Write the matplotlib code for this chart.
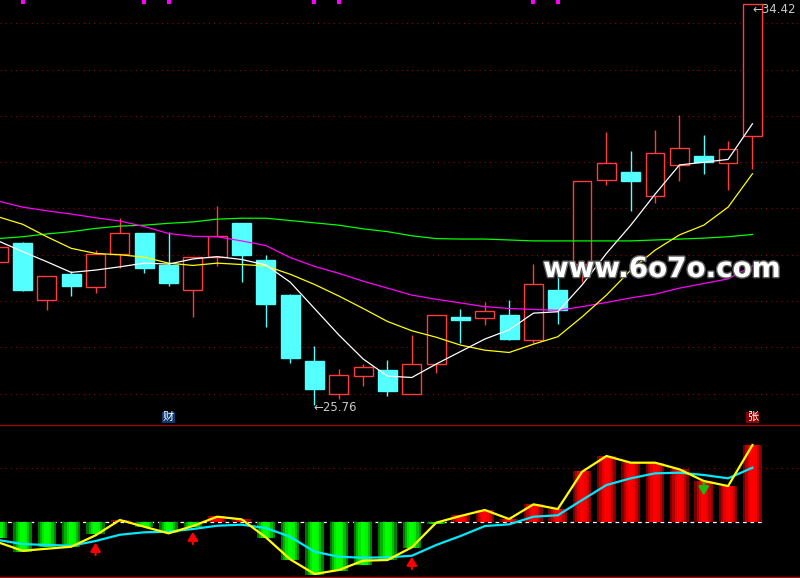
import matplotlib
matplotlib.use("Agg")
import matplotlib.pyplot as plt
import matplotlib.patheffects as pe
from matplotlib.transforms import blended_transform_factory
import numpy as np

# daily candles (index 0 is the one cut at the left edge)
opens = [28.84, 29.25, 28.02, 28.59, 28.31, 29.02, 29.47, 28.79, 28.25, 28.95,
         29.69, 28.89, 28.13, 26.71, 26.00, 26.39, 26.51, 25.99, 26.64, 27.66,
         27.63, 27.70, 27.17, 28.24, 28.80, 30.62, 30.79, 30.26, 30.95, 31.13,
         30.99, 31.57]
closes = [29.17, 28.24, 28.54, 28.33, 29.02, 29.46, 28.72, 28.40, 28.95, 29.40,
          29.00, 27.94, 26.78, 26.11, 26.40, 26.58, 26.06, 26.64, 27.69, 27.60,
          27.78, 27.19, 28.36, 27.81, 30.59, 30.98, 30.59, 31.19, 31.31, 31.00,
          31.29, 34.42]
highs = [29.17, 29.28, 28.54, 28.65, 29.10, 29.79, 29.47, 29.49, 28.95, 30.05,
         29.69, 28.99, 28.15, 27.03, 26.53, 26.64, 26.73, 27.27, 27.69, 27.83,
         27.98, 28.02, 28.80, 28.51, 30.59, 31.65, 31.24, 31.70, 32.02, 31.59,
         31.46, 34.42]
lows = [28.84, 28.22, 27.81, 28.12, 28.18, 28.71, 28.61, 28.33, 27.66, 28.76,
        28.42, 27.45, 26.67, 25.76, 25.89, 26.17, 25.94, 25.99, 26.45, 27.10,
        27.49, 27.16, 27.10, 27.51, 28.42, 30.51, 29.95, 30.11, 30.60, 30.75,
        30.40, 30.85]

# moving average lines (values read at each candle)
ma_white = [29.30, 29.07, 28.85, 28.62, 28.67, 28.74, 28.82, 28.80, 28.91, 28.96,
            28.90, 28.78, 28.41, 27.84, 27.27, 26.75, 26.38, 26.35, 26.64, 26.91,
            27.18, 27.38, 27.74, 27.77, 28.35, 29.03, 29.64, 30.31, 30.94, 31.00,
            31.06, 31.83]
ma_yellow = [29.82, 29.66, 29.39, 29.14, 29.03, 29.00, 28.95, 28.82, 28.77, 28.82,
             28.79, 28.76, 28.58, 28.36, 28.11, 27.84, 27.56, 27.36, 27.22, 27.05,
             26.94, 26.89, 27.07, 27.23, 27.66, 28.13, 28.67, 29.10, 29.43, 29.64,
             30.03, 30.75]
ma_magenta = [30.16, 30.03, 29.95, 29.88, 29.80, 29.73, 29.61, 29.46, 29.40, 29.39,
              29.30, 29.20, 28.94, 28.75, 28.60, 28.43, 28.28, 28.13, 28.04, 27.96,
              27.88, 27.84, 27.82, 27.80, 27.88, 27.97, 28.07, 28.15, 28.28, 28.38,
              28.48, 28.76]
ma_green = [29.35, 29.39, 29.45, 29.50, 29.57, 29.62, 29.64, 29.68, 29.71, 29.77,
            29.79, 29.79, 29.74, 29.69, 29.64, 29.56, 29.50, 29.41, 29.35, 29.34,
            29.34, 29.32, 29.30, 29.30, 29.30, 29.30, 29.30, 29.32, 29.34, 29.36,
            29.39, 29.44]

# lower indicator
hist = [-2.96, -5.44, -4.52, -4.52, -2.17, 0.43, -0.93, -2.04, -0.93, 1.17,
        0.61, -2.85, -6.93, -9.76, -8.96, -7.90, -6.98, -4.70, -0.25, 1.35,
        2.28, 0.61, 3.39, 2.46, 9.50, 12.33, 11.22, 10.93, 9.87, 7.65,
        6.72, 14.31]
line_yellow = [-3.70, -5.26, -4.89, -4.52, -2.41, 0.43, -0.81, -2.04, -0.69, 1.04,
               0.56, -2.78, -6.85, -9.57, -8.83, -7.10, -6.98, -4.63, -0.07, 1.17,
               2.28, 0.61, 3.33, 2.46, 9.37, 12.28, 11.04, 11.04, 9.81, 7.65,
               6.72, 14.31]
line_cyan = [-3.28, -4.02, -4.20, -4.33, -3.46, -2.30, -1.85, -1.74, -1.24, -0.63,
             -0.44, -1.06, -2.67, -5.44, -6.37, -6.56, -6.48, -6.19, -4.20, -2.54,
             -0.69, -0.37, 1.04, 1.30, 4.13, 6.91, 8.15, 9.07, 9.19, 8.76,
             8.15, 10.11]

# signals
buy_idx = [4, 8, 17]
buy_tip = [-3.78, -1.74, -6.37]
buy_tail = [-6.06, -4.02, -8.65]
sell_idx = [29]
sell_tip = [5.0]
sell_tail = [7.33]
dot_idx = [1, 6, 7, 13, 14, 22, 23]
price_grid = [26, 27, 28, 29, 30, 31, 32, 33, 34]

RED = "#ff3c3c"
CYAN = "#54ffff"
GRID = "#a00000"

fig = plt.figure(figsize=(8, 5.78), dpi=100, facecolor="black")
ax1 = fig.add_axes([0, 153 / 578, 1, 425 / 578])
ax2 = fig.add_axes([0, 0, 1, 153 / 578])
for ax in (ax1, ax2):
    ax.set_facecolor("black")
    ax.set_xlim(0.074, 32.955)
    ax.set_xticks([])
    ax.set_yticks([])
    for s in ax.spines.values():
        s.set_visible(False)

x = np.arange(len(opens))
o = np.array(opens)
c = np.array(closes)
up = c >= o

# ---- price panel
ax1.set_ylim(25.324, 34.503)
for g in price_grid:
    ax1.axhline(g, color=GRID, lw=0.75, linestyle=(0, (1, 4)), zorder=0)

w = 0.77
for i in range(len(x)):
    col = RED if up[i] else CYAN
    ax1.vlines(x[i], lows[i], highs[i], color=col, lw=1.0, zorder=2)
    lo, hi = min(o[i], c[i]), max(o[i], c[i])
    ax1.bar(x[i], max(hi - lo, 0.02), bottom=lo, width=w,
            facecolor="black" if up[i] else CYAN,
            edgecolor=col, lw=1.0, zorder=3)

ax1.plot(x, ma_green, color="#00ff00", lw=0.9, zorder=4)
ax1.plot(x, ma_magenta, color="#ff00ff", lw=0.9, zorder=4)
ax1.plot(x, ma_yellow, color="#ffff00", lw=0.9, zorder=4)
ax1.plot(x, ma_white, color="white", lw=0.9, zorder=5)

tr = blended_transform_factory(ax1.transData, ax1.transAxes)
ax1.scatter(dot_idx, [0.9946] * len(dot_idx), transform=tr, marker="s",
            s=5, color="#ff00ff", lw=0, zorder=6, clip_on=False)

i_hi = int(np.argmax(highs))
i_lo = int(np.argmin(lows))
ax1.annotate("\u2190" + f"{highs[i_hi]:.2f}", xy=(x[i_hi], highs[i_hi]),
             xytext=(0, -4), textcoords="offset points", ha="left", va="center",
             color="#c8c8c8", fontsize=8.5)
ax1.annotate("\u2190" + f"{lows[i_lo]:.2f}", xy=(x[i_lo], lows[i_lo]),
             xytext=(-1, -2), textcoords="offset points", ha="left", va="center",
             color="#c8c8c8", fontsize=8.5)

cjk = ["Noto Sans CJK SC", "DejaVu Sans"]
ax1.text(7, 0.018, "财", transform=tr, ha="center", va="center", color="white",
         fontsize=8, family=cjk,
         bbox=dict(boxstyle="square,pad=0.05", fc="#0c3a70", ec="none"))
ax1.text(31, 0.018, "张", transform=tr, ha="center", va="center", color="white",
         fontsize=8, family=cjk,
         bbox=dict(boxstyle="square,pad=0.05", fc="#8a0000", ec="none"))

# ---- indicator panel
ax2.set_ylim(-10.31, 18.02)
ax2.axhline(10, color=GRID, lw=0.75, linestyle=(0, (1, 4)), zorder=0)
ax2.hlines(0, 0.074, 31.4, color="white", lw=0.9, linestyle=(0, (3, 3)), zorder=1)
ax2.axhline(17.93, color="#b00000", lw=1.0)
ax2.axhline(-10.13, color="#b00000", lw=1.0)

hv = np.array(hist)
shade = [0.45, 0.7, 0.9, 1.0, 1.0, 0.95, 0.75, 0.5]
bw = 0.76
for k, s in enumerate(shade):
    off = -bw / 2 + (k + 0.5) * bw / len(shade)
    cols = [(s, 0, 0) if v > 0 else (0, s, 0) for v in hv]
    ax2.bar(x + off, hv, width=bw / len(shade) + 0.004, color=cols, lw=0, zorder=2)

ax2.plot(x, line_cyan, color="#00e8ff", lw=1.6, zorder=4)
ax2.plot(x, line_yellow, color="#ffff00", lw=1.6, zorder=5)

arrow_style = "-|>,head_width=0.3,head_length=0.5"
for i, t0, t1 in zip(buy_idx, buy_tip, buy_tail):
    ax2.annotate("", xy=(i, t0), xytext=(i, t1),
                 arrowprops=dict(arrowstyle=arrow_style, color="red", lw=1.6,
                                 shrinkA=0, shrinkB=0), zorder=6)
for i, t0, t1 in zip(sell_idx, sell_tip, sell_tail):
    ax2.annotate("", xy=(i, t0), xytext=(i, t1),
                 arrowprops=dict(arrowstyle=arrow_style, color="#10c010", lw=1.6,
                                 shrinkA=0, shrinkB=0), zorder=6)

fig.text(543 / 800, 1 - 277 / 578, "www.6o7o.com", ha="left", va="baseline",
         fontsize=20, weight="bold", color="white",
         path_effects=[pe.withStroke(linewidth=2, foreground="#606060")])

fig.savefig("out.png", dpi=100, facecolor="black")
